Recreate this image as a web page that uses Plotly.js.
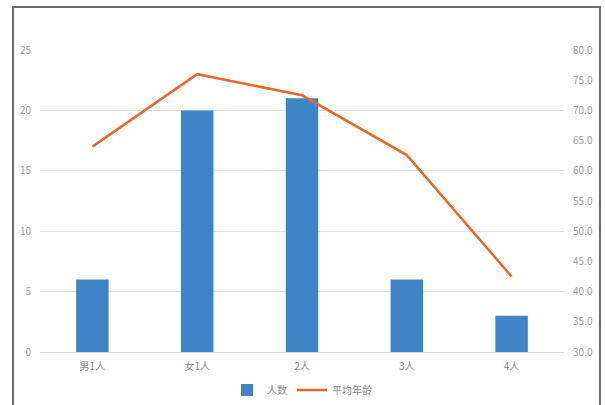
<!DOCTYPE html>
<html>
<head>
<meta charset="utf-8">
<script src="https://cdn.plot.ly/plotly-3.0.1.min.js"></script>
<style>
html,body{margin:0;padding:0;background:#fff;width:605px;height:405px;overflow:hidden;}
#chart{position:absolute;left:0;top:0;width:605px;height:405px;}
#frame{position:absolute;left:12px;top:6px;width:585px;height:410px;border:2px solid #6e6a68;border-bottom:none;pointer-events:none;}
</style>
</head>
<body>
<div id="chart"></div>
<div id="frame"></div>
<script>
var categories = ['男1人', '女1人', '2人', '3人', '4人'];
var counts = [6, 20, 21, 6, 3];
var avgAge = [64.0, 76.0, 72.5, 62.6, 42.5];
var leftTicks = [0, 5, 10, 15, 20, 25];
var rightTicks = [30, 35, 40, 45, 50, 55, 60, 65, 70, 75, 80];

var font = 'Noto Sans CJK SC, Noto Sans, sans-serif';
var traces = [
  {type:'bar', name:'人数', x:categories, y:counts, marker:{color:'#3f84c6'}, yaxis:'y'},
  {type:'scatter', mode:'lines', name:'平均年龄', x:categories, y:avgAge, line:{color:'#e5692c', width:2.5}, yaxis:'y2'}
];
var layout = {
  width:605, height:405,
  margin:{l:39.5, r:40.5, t:50, b:53, autoexpand:false},
  paper_bgcolor:'#fff', plot_bgcolor:'#fff',
  font:{family:font, color:'#9a9a9a', size:10},
  bargap:0.69,
  showlegend:true,
  legend:{orientation:'h', x:0.5, xanchor:'center', yref:'container', y:0.037, yanchor:'middle', font:{size:10, color:'#8a8a8a'}, itemwidth:30},
  xaxis:{type:'category', showgrid:false, showline:false, ticks:'', ticklabelstandoff:7, tickfont:{size:10, color:'#8a8a8a'}},
  yaxis:{range:[0,25], tickvals:leftTicks, showgrid:true, gridcolor:'#e3e3e3', gridwidth:1, zeroline:true, zerolinecolor:'#d9d9d9', showline:false, ticks:'', ticklabelstandoff:8, tickfont:{size:10, color:'#a0a0a0'}},
  yaxis2:{overlaying:'y', side:'right', range:[30,80], tickvals:rightTicks, tickformat:'.1f', showgrid:false, zeroline:false, showline:false, ticks:'', ticklabelstandoff:8, tickfont:{size:10, color:'#a0a0a0'}}
};
Plotly.newPlot('chart', traces, layout, {staticPlot:true, displayModeBar:false});
</script>
</body>
</html>
